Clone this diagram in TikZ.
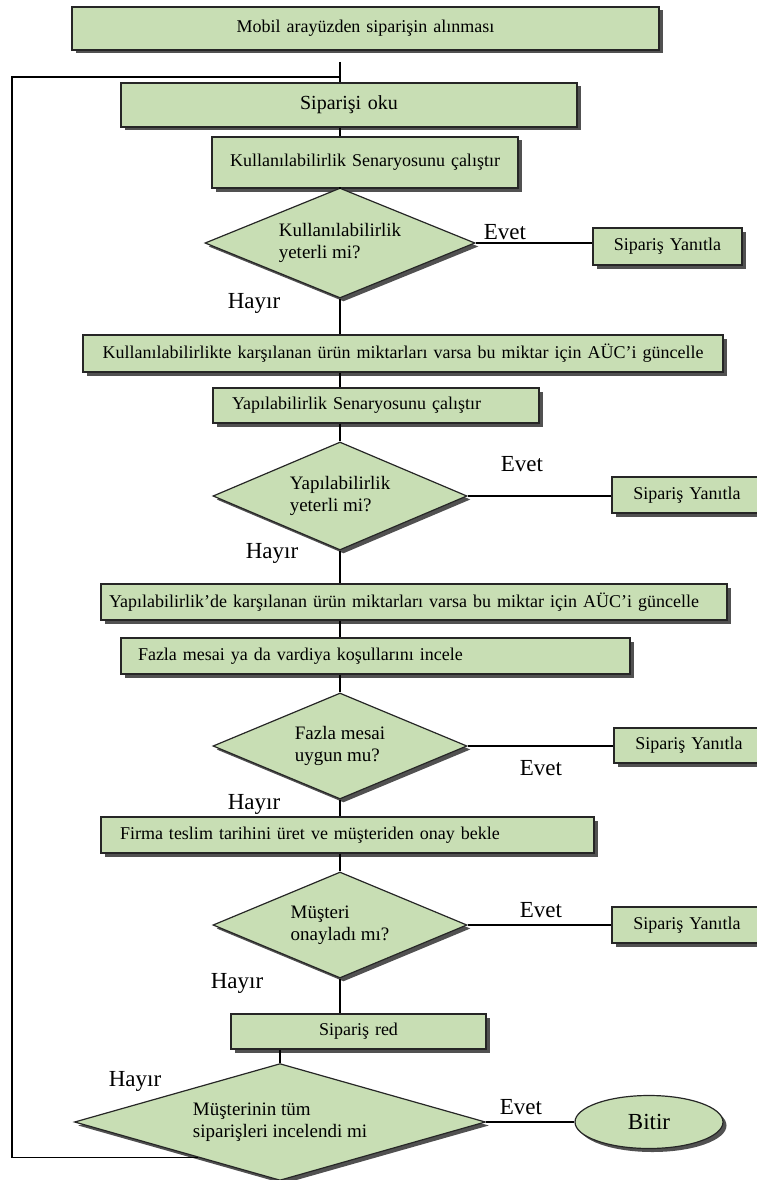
\documentclass[tikz,border=0pt]{standalone}
\usepackage{fontspec}
\setmainfont{Liberation Serif}
\usetikzlibrary{shapes.geometric,shadows,calc}
\definecolor{flowgreen}{RGB}{200,222,180}

\begin{document}
\begin{tikzpicture}[
  x=1pt, y=-1pt,
  line width=1.2pt,
  every node/.style={font=\fontsize{18}{21}\selectfont, inner sep=0pt},
  box/.style={draw=black!85, fill=flowgreen, rectangle, align=center,
    drop shadow={shadow xshift=3.5pt, shadow yshift=-3.5pt, fill=black!80, opacity=.85}},
  lbox/.style={box, align=left},
  decision/.style={box, diamond, aspect=2.4, inner sep=2pt, align=left, font=\fontsize{19}{22}\selectfont},
  terminal/.style={box, ellipse, font=\fontsize{23}{26}\selectfont},
  answer/.style={font=\fontsize{23}{26}\selectfont}
]
  \useasboundingbox (0,0) rectangle (757,1180);

  % main column
  \node[box, text width=587pt, minimum height=43pt] (b1) at (365.5,28.5) {Mobil arayüzden siparişin alınması};
  \node[box, text width=456pt, minimum height=44pt, font=\fontsize{20}{23}\selectfont] (b2) at (349,105) {Siparişi oku};
  \node[box, text width=306pt, minimum height=51pt] (b3) at (365,162.5) {Kullanılabilirlik Senaryosunu çalıştır};
  \node[decision, minimum width=270pt, minimum height=110pt] (d1) at (340,243) {Kullanılabilirlik\\yeterli mi?};
  \node[box, text width=640pt, minimum height=37pt] (b4) at (403,353.5) {Kullanılabilirlikte karşılanan ürün miktarları varsa bu miktar için AÜC'i güncelle};
  \node[lbox, text width=288pt, minimum height=35pt, inner xsep=19pt] (b5) at (376,405.5) {Yapılabilirlik Senaryosunu çalıştır};
  \node[decision, minimum width=254pt, minimum height=108pt] (d2) at (340,496) {Yapılabilirlik\\yeterli mi?};
  \node[lbox, text width=610pt, minimum height=36pt, inner xsep=8pt] (b6) at (414,602) {Yapılabilirlik'de karşılanan ürün miktarları varsa bu miktar için AÜC'i güncelle};
  \node[lbox, text width=475pt, minimum height=36pt, inner xsep=17pt] (b7) at (375.5,656) {Fazla mesai ya da vardiya koşullarını incele};
  \node[decision, minimum width=254pt, minimum height=106pt] (d3) at (340,746) {Fazla mesai\\uygun mu?};
  \node[lbox, text width=455pt, minimum height=36pt, inner xsep=19pt] (b8) at (347.5,835) {Firma teslim tarihini üret ve müşteriden onay bekle};
  \node[decision, minimum width=254pt, minimum height=106pt] (d4) at (340,925) {Müşteri\\onayladı mı?};
  \node[box, text width=255pt, minimum height=35pt] (b9) at (358.5,1031.5) {Sipariş red};
  \node[decision, minimum width=411pt, minimum height=108pt] (d5) at (280,1122) {Müşterinin tüm\\siparişleri incelendi mi};

  % answers on the right
  \node[box, text width=149pt, minimum height=37pt] (y1) at (667.5,246.5) {Sipariş Yanıtla};
  \node[box, text width=150pt, minimum height=36pt] (y2) at (687,495) {Sipariş Yanıtla};
  \node[box, text width=150pt, minimum height=35pt] (y3) at (689,745.5) {Sipariş Yanıtla};
  \node[box, text width=150pt, minimum height=36pt] (y4) at (687,925) {Sipariş Yanıtla};
  \node[terminal, minimum width=148pt, minimum height=53pt] (bitir) at (649,1122) {Bitir};

  % branch labels
  \node[answer] (e1) at (505,232) {Evet};
  \node[answer] (h1) at (254,303) {Hayır};
  \node[answer] (e2) at (522,464) {Evet};
  \node[answer] (h2) at (272,553) {Hayır};
  \node[answer] (e3) at (541,768) {Evet};
  \node[answer] (h3) at (254,804) {Hayır};
  \node[answer] (e4) at (541,910) {Evet};
  \node[answer] (h4) at (237,983) {Hayır};
  \node[answer] (h5) at (135,1081) {Hayır};
  \node[answer] (e5) at (521,1107) {Evet};

  % connectors
  \coordinate (axis) at (340,0);
  \coordinate (stemtop) at (340,62);
  \coordinate (join) at (340,77);
  \coordinate (loopcorner) at (12,77);
  \coordinate (loopin) at ($(d5.west)!0.6!(d5.south)$);

  \draw (stemtop) -- (b2.north -| axis);
  \draw (b2.south -| axis) -- (b3.north -| axis);
  \draw (b3.south -| axis) -- (d1.north);
  \draw (d1.east) -- (d1.east -| y1.west);
  \draw (d1.south) -- (b4.north -| axis);
  \draw (b4.south -| axis) -- (b5.north -| axis);
  \draw (b5.south -| axis) -- (d2.north);
  \draw (d2.east) -- (d2.east -| y2.west);
  \draw (d2.south) -- (b6.north -| axis);
  \draw (b6.south -| axis) -- (b7.north -| axis);
  \draw (b7.south -| axis) -- (d3.north);
  \draw (d3.east) -- (d3.east -| y3.west);
  \draw (d3.south) -- (b8.north -| axis);
  \draw (b8.south -| axis) -- (d4.north);
  \draw (d4.east) -- (d4.east -| y4.west);
  \draw (d4.south) -- (b9.north -| axis);
  \draw (b9.south -| d5.north) -- (d5.north);
  \draw (d5.east) -- (bitir.west);
  \draw (loopin) -| (loopcorner) -- (join);
\end{tikzpicture}
\end{document}
